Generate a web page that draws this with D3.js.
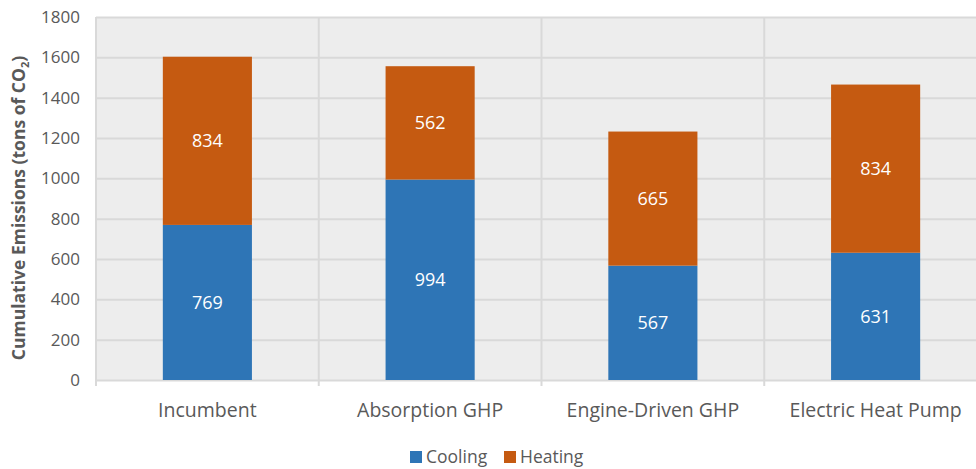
<!DOCTYPE html>
<html>
<head>
<meta charset="utf-8">
<script src="https://cdn.jsdelivr.net/npm/d3@7"></script>
<style>
  body { margin: 0; background: #fff; }
  svg text { font-family: 'Open Sans', sans-serif; fill: #595959; }
  .grid line { stroke: #d9d9d9; stroke-width: 2; }
  .grid path { display: none; }
</style>
</head>
<body>
<svg id="chart"></svg>
<script>
//chart data
var categories = ['Incumbent', 'Absorption GHP', 'Engine-Driven GHP', 'Electric Heat Pump'];
var cooling = [769, 994, 567, 631];
var heating = [834, 562, 665, 834];
var seriesNames = ['Cooling', 'Heating'];
var yTicks = [0, 200, 400, 600, 800, 1000, 1200, 1400, 1600, 1800];

//chart parameters
var svg = d3.select('#chart')
    .attr('width', 976)
    .attr('height', 469);

var margin = {top: 17, right: -11, bottom: 89, left: 96},
    width = +svg.attr('width') - margin.left - margin.right,
    height = +svg.attr('height') - margin.top - margin.bottom;

var colors = {Cooling: '#2e75b6', Heating: '#c55a11'};

//scales
var xScale = d3.scaleBand().domain(categories).range([0, width]).paddingInner(0).paddingOuter(0),
    yScale = d3.scaleLinear().domain([0, 1800]).range([height, 0]);

//stack data
var rows = categories.map((c, i) => ({cat: c, Cooling: cooling[i], Heating: heating[i]}));
var stacked = d3.stack().keys(seriesNames)(rows);

var canvas = svg.append('g')
    .attr('transform', 'translate(' + margin.left + ',' + margin.top + ')');

//plot background
canvas.append('rect')
    .attr('width', width)
    .attr('height', height)
    .attr('fill', '#ededed');

//horizontal gridlines
canvas.append('g')
    .attr('class', 'grid')
    .call(d3.axisLeft(yScale).tickValues(yTicks).tickSize(-width).tickFormat(''));

//vertical category separators
canvas.append('g')
    .attr('class', 'grid')
    .attr('transform', 'translate(0,' + height + ')')
    .selectAll('line')
    .data(categories.concat(['end']))
    .enter().append('line')
        .attr('x1', (d, i) => i < categories.length ? xScale(d) : width)
        .attr('x2', (d, i) => i < categories.length ? xScale(d) : width)
        .attr('y1', -height)
        .attr('y2', 6);

//y tick labels
canvas.append('g')
    .selectAll('text')
    .data(yTicks)
    .enter().append('text')
        .attr('x', -16)
        .attr('y', d => yScale(d))
        .attr('dy', '0.35em')
        .attr('text-anchor', 'end')
        .style('font-size', '17px')
        .text(d => d);

//x labels
canvas.append('g')
    .selectAll('text')
    .data(categories)
    .enter().append('text')
        .attr('x', d => xScale(d) + xScale.bandwidth() / 2)
        .attr('y', height + 37)
        .attr('text-anchor', 'middle')
        .style('font-size', '19.5px')
        .text(d => d);

//bars
var barW = xScale.bandwidth() * 0.4;
var layer = canvas.selectAll('.layer').data(stacked)
    .enter().append('g')
        .attr('class', 'layer')
        .attr('fill', d => colors[d.key]);

layer.selectAll('rect')
    .data(d => d)
    .enter().append('rect')
        .attr('x', d => xScale(d.data.cat) + (xScale.bandwidth() - barW) / 2)
        .attr('y', d => yScale(d[1]))
        .attr('width', barW)
        .attr('height', d => yScale(d[0]) - yScale(d[1]));

//bar value labels
layer.selectAll('text')
    .data(d => d.map(v => Object.assign({key: d.key}, v)))
    .enter().append('text')
        .attr('x', d => xScale(d.data.cat) + xScale.bandwidth() / 2)
        .attr('y', d => yScale((d[0] + d[1]) / 2))
        .attr('dy', '0.35em')
        .attr('text-anchor', 'middle')
        .style('font-size', '18px')
        .style('fill', '#fff')
        .text(d => d[1] - d[0]);

//y axis label
svg.append('text')
    .attr('transform', 'translate(25,208) rotate(-90)')
    .attr('text-anchor', 'middle')
    .style('font-size', '17.5px')
    .style('font-weight', 'bold')
    .html('Cumulative Emissions (tons of CO<tspan dy="4" font-size="11px">2</tspan><tspan dy="-4">)</tspan>');

//legend
var legend = svg.append('g')
    .attr('transform', 'translate(410,457)');
var lx = [0, 94];
seriesNames.forEach((s, i) => {
    legend.append('rect')
        .attr('x', lx[i])
        .attr('y', -6)
        .attr('width', 12)
        .attr('height', 12)
        .attr('fill', colors[s]);
    legend.append('text')
        .attr('x', lx[i] + 16)
        .attr('y', 0)
        .attr('dy', '0.35em')
        .style('font-size', '17.5px')
        .text(s);
});
</script>
</body>
</html>
